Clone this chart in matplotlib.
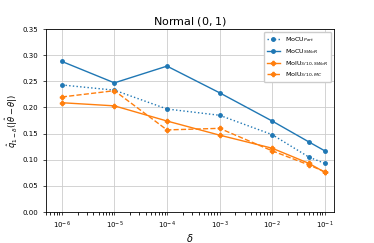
import matplotlib
matplotlib.use("Agg")
import matplotlib.pyplot as plt

deltas = [1e-6, 1e-5, 1e-4, 1e-3, 1e-2, 0.05, 0.1]
mocu_part = [0.243, 0.233, 0.197, 0.185, 0.148, 0.105, 0.093]
mocu_swor = [0.288, 0.247, 0.279, 0.228, 0.174, 0.134, 0.117]
moiu_swor = [0.209, 0.203, 0.174, 0.147, 0.122, 0.093, 0.076]
moiu_mc = [0.220, 0.232, 0.157, 0.160, 0.117, 0.090, 0.077]
yticks = [0.00, 0.05, 0.10, 0.15, 0.20, 0.25, 0.30, 0.35]

blue = "#1f77b4"
orange = "#ff7f0e"

fig = plt.figure(figsize=(3.74, 2.43), dpi=100)
ax = fig.add_axes([46/374, 1 - 212/243, (334-46)/374, (212-29)/243])

ax.plot(deltas, mocu_part, color=blue, linestyle=":", marker="o", markersize=2.5, linewidth=1.0,
        label=r"MoCU$_{Part}$")
ax.plot(deltas, mocu_swor, color=blue, linestyle="-", marker="o", markersize=2.5, linewidth=1.0,
        label=r"MoCU$_{SWoR}$")
ax.plot(deltas, moiu_swor, color=orange, linestyle="-", marker="P", markersize=3, linewidth=1.0,
        label=r"MoIU$_{3/10,SWoR}$")
ax.plot(deltas, moiu_mc, color=orange, linestyle="--", marker="P", markersize=3, linewidth=1.0,
        label=r"MoIU$_{3/10,MC}$")

ax.set_xscale("log")
ax.set_xlim(5e-7, 0.15)
ax.set_ylim(0, 0.35)
ax.set_yticks(yticks)
ax.grid(True, color="#cccccc", linewidth=0.6)
ax.tick_params(labelsize=5, length=2, width=0.5)
for s in ax.spines.values():
    s.set_linewidth(0.6)
ax.set_title(r"Normal $(0,1)$", fontsize=8, pad=3)
ax.set_xlabel(r"$\delta$", fontsize=7, labelpad=1)
ax.set_ylabel(r"$\hat{q}_{1-\delta}(|\hat{\theta}-\theta|)$", fontsize=6, labelpad=2)
ax.legend(loc="upper right", fontsize=4.6, framealpha=1, borderpad=0.5, handlelength=2.0)

fig.savefig("out.png", dpi=100)
